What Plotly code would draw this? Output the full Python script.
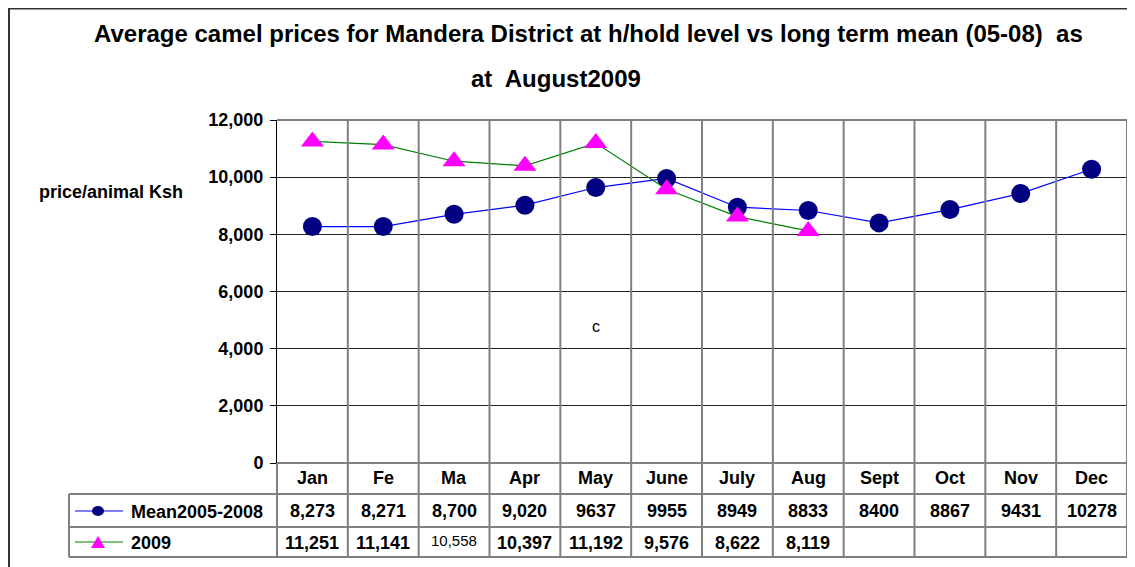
import plotly.graph_objects as go

# ---------------- data ----------------
months = ["Jan", "Fe", "Ma", "Apr", "May", "June", "July", "Aug", "Sept", "Oct", "Nov", "Dec"]
mean_0508 = [8273, 8271, 8700, 9020, 9637, 9955, 8949, 8833, 8400, 8867, 9431, 10278]
prices_2009 = [11251, 11141, 10558, 10397, 11192, 9576, 8622, 8119]
mean_labels = ["8,273", "8,271", "8,700", "9,020", "9637", "9955", "8949", "8833",
               "8400", "8867", "9431", "10278"]
labels_2009 = ["11,251", "11,141", "10,558", "10,397", "11,192", "9,576", "8,622", "8,119"]
y_ticks = [0, 2000, 4000, 6000, 8000, 10000, 12000]
series_names = ["Mean2005-2008", "2009"]

# ---------------- layout helpers ----------------
OFF = 8  # default page body margin
W, H = 1135 - OFF, 567 - OFF
L, R = 277 - OFF, 8
T = 120 - OFF
B = H - (463 - OFF)
PW, PH = W - L - R, H - T - B
FONT = "Arial, Liberation Sans, sans-serif"
GRAY = "#808080"


def px(x):
    """viewport pixel x -> paper x"""
    return (x - OFF - L) / PW


def py(y):
    """viewport pixel y -> paper y"""
    return (H - B - (y - OFF)) / PH


fig = go.Figure()
fig.add_trace(go.Scatter(
    x=months, y=mean_0508, mode="lines+markers", name=series_names[0],
    line=dict(color="#0000FF", width=1.2),
    marker=dict(symbol="circle", size=19, color="#000080"),
    cliponaxis=False,
))
fig.add_trace(go.Scatter(
    x=months[:len(prices_2009)], y=prices_2009, mode="lines+markers", name=series_names[1],
    line=dict(color="#008000", width=1.2),
    marker=dict(symbol="triangle-up", size=20, color="#FF00FF"),
    cliponaxis=False,
))

shapes = []
# outer chart border
shapes.append(dict(type="rect", xref="paper", yref="paper",
                   x0=px(9), x1=px(1200), y0=py(8.5), y1=py(640),
                   line=dict(color="#333333", width=2), layer="below"))
# top border of plot area
shapes.append(dict(type="line", xref="paper", yref="paper",
                   x0=0, x1=1, y0=1, y1=1, line=dict(color="black", width=1)))
# vertical category separators (extend through data table)
n = len(months)
for i in range(1, n):
    xx = i / n
    shapes.append(dict(type="line", xref="paper", yref="paper",
                       x0=xx, x1=xx, y0=1, y1=py(557), line=dict(color=GRAY, width=2)))
# right border
shapes.append(dict(type="line", xref="paper", yref="paper",
                   x0=1, x1=1, y0=1, y1=py(557), line=dict(color=GRAY, width=2)))
# left border of table body below axis
shapes.append(dict(type="line", xref="paper", yref="paper",
                   x0=0, x1=0, y0=0, y1=py(557), line=dict(color=GRAY, width=2)))
# legend column left edge
shapes.append(dict(type="line", xref="paper", yref="paper",
                   x0=px(69), x1=px(69), y0=py(494), y1=py(557), line=dict(color=GRAY, width=2)))
# table horizontal lines
for yy in (494, 527, 557):
    shapes.append(dict(type="line", xref="paper", yref="paper",
                       x0=px(69), x1=1, y0=py(yy), y1=py(yy), line=dict(color=GRAY, width=2)))
shapes.append(dict(type="line", xref="paper", yref="paper",
                   x0=0, x1=1, y0=0, y1=0, line=dict(color=GRAY, width=2)))
# legend keys
shapes.append(dict(type="line", xref="paper", yref="paper",
                   x0=px(75), x1=px(123), y0=py(511), y1=py(511), line=dict(color="#0000FF", width=1.2)))
shapes.append(dict(type="circle", xref="paper", yref="paper",
                   x0=px(92), x1=px(104), y0=py(516), y1=py(506),
                   fillcolor="#000080", line=dict(color="#000080", width=0)))
shapes.append(dict(type="line", xref="paper", yref="paper",
                   x0=px(75), x1=px(123), y0=py(542), y1=py(542), line=dict(color="#008000", width=1.2)))
tri = "M {a},{b} L {c},{d} L {e},{f} Z".format(
    a=px(91), b=py(548), c=px(105), d=py(548), e=px(98), f=py(536))
shapes.append(dict(type="path", xref="paper", yref="paper", path=tri,
                   fillcolor="#FF00FF", line=dict(color="#FF00FF", width=0)))

ann = []
bold = dict(family=FONT, size=18, color="black", weight="bold")
title_font = dict(family=FONT, size=24, color="black", weight="bold")
C = dict(showarrow=False, xanchor="center", yanchor="middle")
# title
ann.append(dict(text="Average camel prices for Mandera District at h/hold level vs long term mean (05-08)  as",
                xref="paper", yref="paper", x=px(588), y=py(33), font=title_font, **C))
ann.append(dict(text="at  August2009", xref="paper", yref="paper", x=px(556), y=py(78),
                font=title_font, **C))
# axis title
ann.append(dict(text="price/animal Ksh", xref="paper", yref="paper", x=px(111), y=py(192),
                font=bold, **C))
# stray "c"
ann.append(dict(text="c", xref="x", yref="y", x="May", y=4760,
                font=dict(family=FONT, size=16, color="black"), **C))
# table: month headers and values
for i, m in enumerate(months):
    ann.append(dict(text=m, xref="x", yref="paper", x=m, y=py(478), font=bold, **C))
    ann.append(dict(text=mean_labels[i], xref="x", yref="paper", x=m, y=py(511),
                    font=bold, **C))
for i, lab in enumerate(labels_2009):
    if lab == "10,558":
        f = dict(family=FONT, size=15, color="black")
        yy = 540
    else:
        f = bold
        yy = 543
    ann.append(dict(text=lab, xref="x", yref="paper", x=months[i], y=py(yy), font=f, **C))
# legend texts
ann.append(dict(text=series_names[0], xref="paper", yref="paper", x=px(129), y=py(512),
                xanchor="left", yanchor="middle", showarrow=False, font=bold))
ann.append(dict(text=series_names[1], xref="paper", yref="paper", x=px(129), y=py(543),
                xanchor="left", yanchor="middle", showarrow=False, font=bold))

fig.update_layout(
    width=W, height=H, margin=dict(l=L, r=R, t=T, b=B, autoexpand=False),
    paper_bgcolor="white", plot_bgcolor="white", showlegend=False,
    shapes=shapes, annotations=ann,
    xaxis=dict(type="category", categoryorder="array", categoryarray=months,
               range=[-0.5, n - 0.5], showticklabels=False, showgrid=False,
               zeroline=False, showline=False, ticks=""),
    yaxis=dict(range=[0, 12000], tickvals=y_ticks, tickformat=",", showgrid=True,
               gridcolor="#222222", gridwidth=1, zeroline=False, showline=True,
               linecolor="black", linewidth=1, ticks="outside", ticklen=6, tickcolor="black",
               ticklabelstandoff=3,
               tickfont=dict(family=FONT, size=18, color="black", weight="bold")),
)

fig.write_html("out.html")
